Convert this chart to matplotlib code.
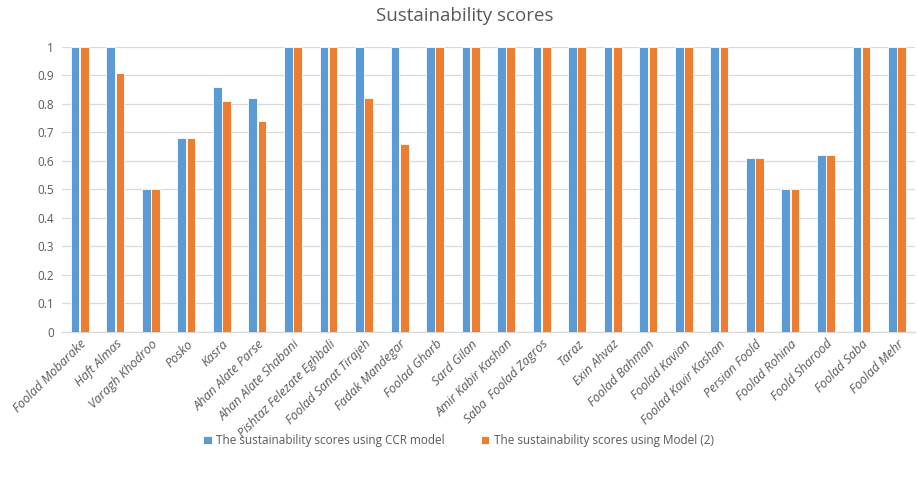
import numpy as np
import matplotlib
matplotlib.use("Agg")
import matplotlib.pyplot as plt

firms = ["Foolad Mobarake", "Haft Almas", "Varagh Khodroo", "Posko", "Kasra",
         "Ahan Alate Parse", "Ahan Alate Shabani", "Pishtaz Felezate Eghbali",
         "Foolad Sanat Tirajeh", "Fadak Mandegar", "Foolad Gharb", "Sard Gilan",
         "Amir Kabir Kashan", "Saba  Foolad Zagros", "Taraz", "Exin Ahvaz",
         "Foolad Bahman", "Foolad Kavian", "Foolad Kavir Kashan", "Persian Foold",
         "Foolad Rohina", "Foold Sharood", "Foolad Saba", "Foolad Mehr"]
ccr = [1, 1, 0.5, 0.68, 0.86, 0.82, 1, 1, 1, 1, 1, 1,
       1, 1, 1, 1, 1, 1, 1, 0.61, 0.5, 0.62, 1, 1]
model2 = [1, 0.91, 0.5, 0.68, 0.81, 0.74, 1, 1, 0.82, 0.66, 1, 1,
          1, 1, 1, 1, 1, 1, 1, 0.61, 0.5, 0.62, 1, 1]
yticks = [0, 0.1, 0.2, 0.3, 0.4, 0.5, 0.6, 0.7, 0.8, 0.9, 1]

plt.rcParams["font.family"] = ["Open Sans", "DejaVu Sans"]
txt = "#595959"

fig = plt.figure(figsize=(9.17, 4.79), dpi=100)
ax = fig.add_axes([0.0676, 0.307, 0.93, 0.595])

x = np.arange(len(firms))
w = 0.245
ax.bar(x - 0.13, ccr, w, color="#5b9bd5", edgecolor="white", linewidth=0.6,
       label="The sustainability scores using CCR model", zorder=3)
ax.bar(x + 0.13, model2, w, color="#ed7d31", edgecolor="white", linewidth=0.6,
       label="The sustainability scores using Model (2)", zorder=3)

ax.set_xlim(-0.5, len(firms) - 0.5)
ax.set_ylim(0, 1)
ax.set_yticks(yticks)
ax.set_yticklabels([f"{v:g}" for v in yticks], fontsize=8.5, color=txt)
ax.set_xticks(x)
ax.set_xticklabels(firms, rotation=45, ha="right", rotation_mode="anchor",
                   fontsize=9, color=txt, style="italic")
ax.tick_params(length=0, pad=6)
ax.tick_params(axis="x", pad=4)
ax.grid(axis="y", color="#d9d9d9", linewidth=0.9, zorder=0)
for s in ["top", "right", "left"]:
    ax.spines[s].set_visible(False)
ax.spines["bottom"].set_color("#d9d9d9")
ax.spines["bottom"].set_linewidth(0.9)

fig.suptitle("Sustainability scores", x=0.507, y=0.985, fontsize=13.5,
             color=txt)

fig.legend(loc="center", bbox_to_anchor=(0.5, 0.08), ncol=2, frameon=False,
           fontsize=8.5, labelcolor=txt, handlelength=0.7, handleheight=0.7,
           columnspacing=3, handletextpad=0.4)

fig.savefig("out.png", dpi=100)
